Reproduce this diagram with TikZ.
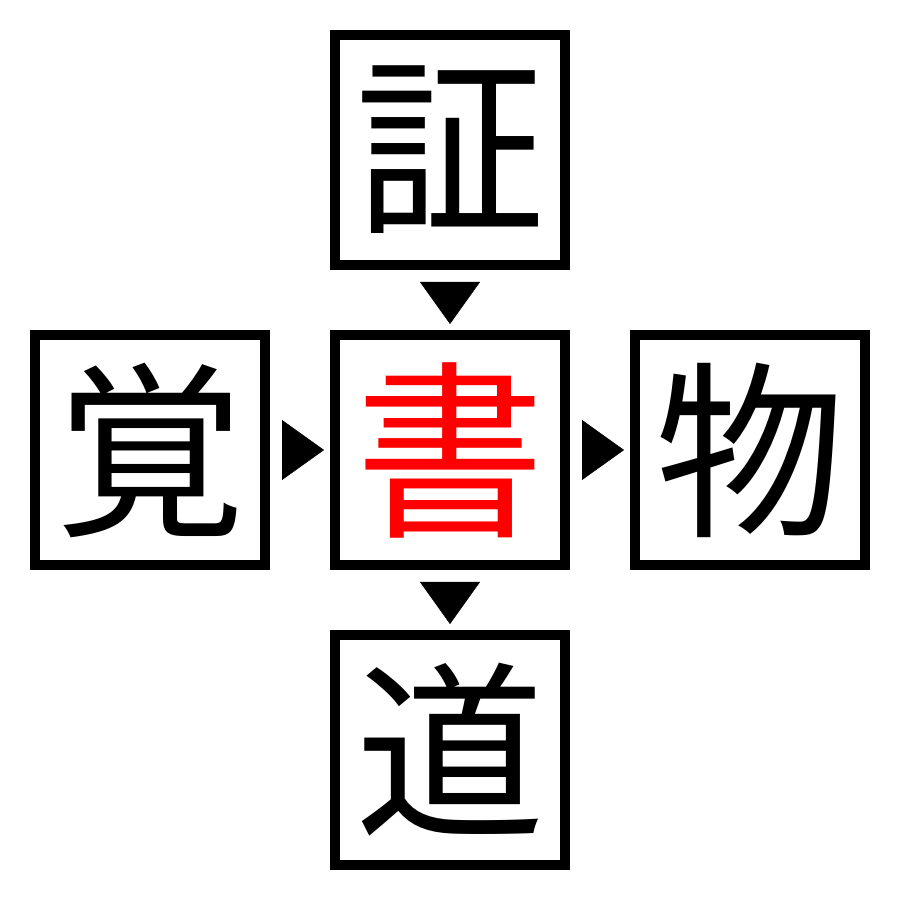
\documentclass[tikz,border=0pt]{standalone}
\usepackage{fontspec}
\newfontfamily\jpfont{Noto Sans CJK JP}
\usetikzlibrary{positioning,arrows.meta}
\tikzset{
  kanji/.style = {align=center, inner sep=0pt, text centered, font=\jpfont\fontsize{54}{54}\selectfont},
  kbox/.style = {kanji, rectangle, draw=black, line width=0.1cm, minimum size=2.3cm},
  kmid/.style = {kbox, text=red},
  karrow/.style = {line width=0.1pt, -{Triangle[length=0.42cm,width=0.6cm]}, shorten <=0.12cm, shorten >=0.06cm},
}
\begin{document}
\begin{tikzpicture}
\useasboundingbox (0,0) rectangle (9,9);
\node [kmid] (sho) at (4.5,4.5) {書};
\node [kbox, above=0.6cm of sho] (sho-up) {証};
\node [kbox, left=0.6cm of sho] (oboe) {覚};
\node [kbox, right=0.6cm of sho] (mono) {物};
\node [kbox, below=0.6cm of sho] (michi) {道};
% connectors are just the triangle tips
\draw [karrow] (sho-up) -- (sho);
\draw [karrow] (oboe) -- (sho);
\draw [karrow] (sho) -- (mono);
\draw [karrow] (sho) -- (michi);
\end{tikzpicture}
\end{document}
